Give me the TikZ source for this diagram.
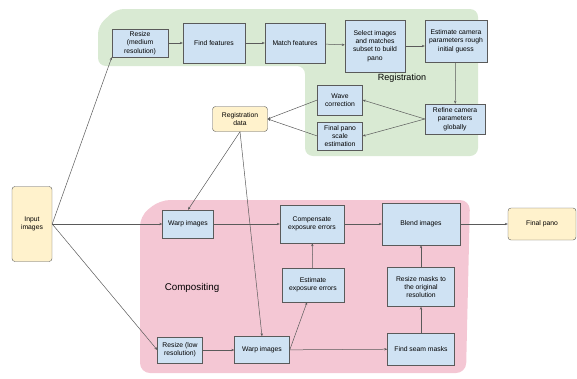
\documentclass[tikz,border=0pt]{standalone}
\usepackage{fontspec}
\setmainfont{Liberation Sans}
\usetikzlibrary{arrows.meta}
\definecolor{reggreen}{RGB}{217,234,211}
\definecolor{comppink}{RGB}{244,199,212}
\definecolor{boxblue}{RGB}{207,226,243}
\definecolor{boxyellow}{RGB}{255,242,204}
\definecolor{edgegray}{RGB}{90,90,90}
\tikzset{
  stage/.style={draw=edgegray,fill=boxblue,align=center,inner sep=1pt,
    font=\fontsize{6.8}{8.3}\selectfont},
  ends/.style={draw=edgegray,fill=boxyellow,rounded corners=3pt,align=center,
    inner sep=1pt,font=\fontsize{6.8}{8.3}\selectfont},
  flow/.style={draw=edgegray,line width=0.5pt,-{Stealth[length=3pt,width=2.4pt]}}
}
\begin{document}
\begin{tikzpicture}[x=1pt,y=-1pt]
\useasboundingbox (0,0) rectangle (577,378);
% green
\fill[reggreen,rounded corners=8pt] (98,26) -- (116,9) -- (478,9) -- (478,156)
  -- (305,156) -- (305,66) -- (98,66) -- cycle;
\node (regtitle) at (402,78) {\fontsize{9}{10}\selectfont Registration};
% red
\fill[comppink,rounded corners=10pt] (140,216) -- (160,200) -- (470,200)
  -- (466,373) -- (140,373) -- cycle;
\node (comptitle) at (192,288) {\fontsize{9.8}{11}\selectfont Compositing};
% registration stages
\node[stage,minimum width=56pt,minimum height=28pt] (resmed) at (140,43) {Resize\\(medium\\resolution)};
\node[stage,minimum width=62pt,minimum height=40pt] (findfeat) at (214,43) {Find features};
\node[stage,minimum width=60pt,minimum height=40pt] (matchfeat) at (295,43) {Match features};
\node[stage,minimum width=60pt,minimum height=52pt] (select) at (375,46) {Select images\\and matches\\subset to build\\pano};
\node[stage,minimum width=62pt,minimum height=42pt] (roughcam) at (456,41) {Estimate camera\\parameters rough\\initial guess};
\node[stage,minimum width=60pt,minimum height=30pt] (refinecam) at (455,119) {Refine camera\\parameters\\globally};
\node[stage,minimum width=45pt,minimum height=30pt] (wave) at (340,100) {Wave\\correction};
\node[stage,minimum width=45pt,minimum height=28pt] (panoscale) at (340,136) {Final pano\\scale\\estimation};
\node[ends,minimum width=55pt,minimum height=25pt] (regdata) at (240,119) {Registration\\data};
% inputs and outputs
\node[ends,minimum width=40pt,minimum height=75pt] (input) at (32,224) {Input\\images};
\node[ends,minimum width=68pt,minimum height=32pt] (finalpano) at (542,224) {Final pano};
% compositing stages
\node[stage,minimum width=51pt,minimum height=28pt] (warptop) at (188,224) {Warp images};
\node[stage,minimum width=64pt,minimum height=38pt] (compexp) at (312,224) {Compensate\\exposure errors};
\node[stage,minimum width=78pt,minimum height=42pt] (blend) at (421,224) {Blend images};
\node[stage,minimum width=62pt,minimum height=34pt] (estexp) at (313,285) {Estimate\\exposure errors};
\node[stage,minimum width=67pt,minimum height=39pt] (resmask) at (421,287) {Resize masks to\\the original\\resolution};
\node[stage,minimum width=45pt,minimum height=26pt] (reslow) at (180,350) {Resize (low\\resolution)};
\node[stage,minimum width=55pt,minimum height=27pt] (warpbot) at (262,350) {Warp images};
\node[stage,minimum width=67pt,minimum height=32pt] (seams) at (421,349) {Find seam masks};
% lines
\draw[flow] (input.east) -- (resmed.south west);
\draw[flow] (input.east) -- (warptop);
\draw[flow] (input.east) -- (reslow.west);
\draw[flow] (resmed) -- (findfeat);
\draw[flow] (findfeat) -- (matchfeat);
\draw[flow] (matchfeat) -- (select);
\draw[flow] (select) -- (roughcam.west |- select);
\draw[flow] (roughcam) -- (refinecam);
\draw[flow] (refinecam.west) -- (wave.east);
\draw[flow] (refinecam.west) -- (panoscale.east);
\draw[flow] (wave.west) -- (regdata.east);
\draw[flow] (panoscale.west) -- (regdata.east);
\draw[flow] (regdata.south) -- (warptop.north);
\draw[flow] (regdata.south) -- (warpbot.north);
\draw[flow] (warptop) -- (compexp);
\draw[flow] (compexp) -- (blend);
\draw[flow] (blend) -- (finalpano);
\draw[flow] (reslow) -- (warpbot);
\draw[flow] (warpbot.east) -- ([xshift=-6pt]estexp.south);
\draw[flow] (estexp) -- (compexp);
\draw[flow] (warpbot) -- (seams);
\draw[flow] (seams) -- (resmask);
\draw[flow] (resmask) -- (blend);
\end{tikzpicture}
\end{document}
